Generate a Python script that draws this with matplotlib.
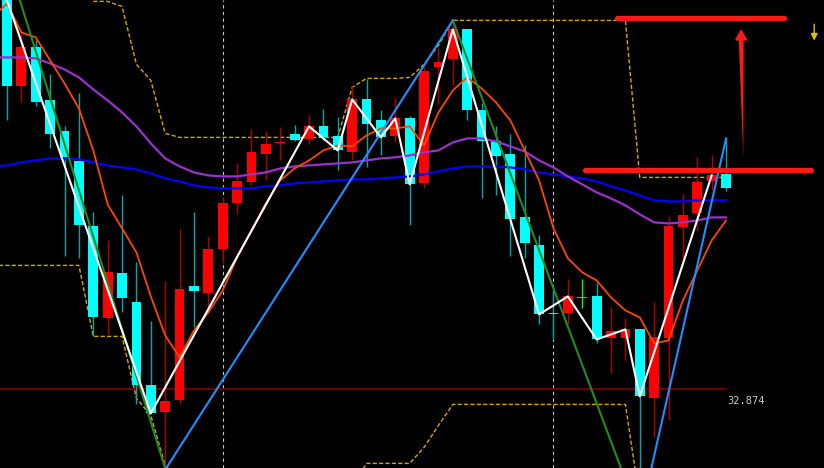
import numpy as np
import matplotlib
matplotlib.use("Agg")
import matplotlib.pyplot as plt

# ---- candles, one per bar (index 0..50) ----
opens = [36.80, 35.90, 36.29, 35.76, 35.45, 35.15, 34.50, 33.58, 34.03, 33.74,
         32.91, 32.64, 32.76, 33.90, 33.83, 34.27, 34.73, 34.94, 35.22, 35.33,
         35.42, 35.37, 35.50, 35.40, 35.24, 35.77, 35.56, 35.40, 35.58, 34.93,
         36.09, 36.17, 36.47, 35.66, 35.35, 35.22, 34.59, 34.31, 33.63, 33.63,
         33.79, 33.80, 33.38, 33.38, 33.47, 32.78, 33.38, 34.49, 34.63, 34.95,
         35.02]
highs = [36.86, 36.43, 36.36, 36.02, 35.50, 35.83, 34.64, 34.36, 34.81, 34.14,
         33.55, 33.95, 34.47, 34.64, 34.40, 34.78, 35.13, 35.47, 35.45, 35.49,
         35.51, 35.61, 35.67, 35.59, 35.90, 35.97, 35.66, 35.78, 35.60, 36.09,
         36.28, 36.57, 36.47, 35.73, 35.50, 35.42, 35.31, 34.41, 33.86, 33.97,
         33.97, 33.93, 33.69, 33.58, 33.47, 33.74, 34.60, 34.82, 35.19, 35.21,
         35.38]
lows = [35.56, 35.74, 35.70, 35.28, 34.20, 34.18, 33.40, 33.42, 33.64, 32.72,
        32.63, 32.00, 32.73, 33.49, 33.66, 34.13, 34.62, 34.91, 34.96, 35.16,
        35.35, 35.32, 35.36, 35.06, 35.16, 35.09, 35.21, 35.34, 34.51, 34.88,
        35.72, 35.91, 35.56, 34.78, 34.81, 34.20, 34.18, 33.52, 33.36, 33.52,
        33.68, 33.33, 33.03, 33.16, 32.00, 32.39, 32.56, 34.15, 34.45, 34.86,
        34.85]
closes = [35.90, 36.29, 35.74, 35.42, 35.19, 34.51, 33.59, 34.04, 33.78, 32.91,
          32.63, 32.75, 33.87, 33.85, 34.27, 34.73, 34.95, 35.24, 35.32, 35.34,
          35.36, 35.50, 35.39, 35.26, 35.77, 35.52, 35.39, 35.58, 34.92, 36.05,
          36.14, 36.47, 35.66, 35.35, 35.20, 34.57, 34.33, 33.62, 33.62, 33.80,
          33.79, 33.37, 33.45, 33.47, 32.80, 33.39, 34.50, 34.61, 34.94, 35.01,
          34.88]

# ---- moving averages (index -1..50) ----
ma_fast = [36.59, 36.73, 36.44, 36.39, 36.16, 35.93, 35.68, 35.26, 34.72, 34.48,
           34.24, 33.80, 33.41, 33.19, 33.46, 33.64, 33.86, 34.19, 34.46, 34.73,
           34.96, 35.08, 35.16, 35.26, 35.31, 35.30, 35.41, 35.48, 35.48, 35.50,
           35.31, 35.64, 35.86, 35.99, 35.88, 35.74, 35.56, 35.26, 34.96, 34.48,
           34.18, 34.04, 33.96, 33.79, 33.66, 33.59, 33.33, 33.36, 33.76, 34.06,
           34.36, 34.56]
ma_mid = [36.19, 36.19, 36.19, 36.18, 36.13, 36.07, 35.99, 35.87, 35.76, 35.64,
          35.50, 35.33, 35.18, 35.10, 35.04, 35.01, 35.00, 35.00, 35.02, 35.04,
          35.08, 35.10, 35.11, 35.12, 35.13, 35.14, 35.16, 35.18, 35.19, 35.21,
          35.24, 35.26, 35.34, 35.38, 35.38, 35.35, 35.30, 35.25, 35.16, 35.09,
          35.00, 34.92, 34.84, 34.78, 34.71, 34.62, 34.54, 34.53, 34.54, 34.56,
          34.59, 34.59]
ma_slow = [35.10, 35.11, 35.14, 35.16, 35.18, 35.18, 35.17, 35.14, 35.11, 35.09,
           35.07, 35.03, 34.98, 34.95, 34.91, 34.89, 34.88, 34.88, 34.88, 34.90,
           34.91, 34.93, 34.94, 34.95, 34.96, 34.97, 34.97, 34.98, 34.99, 35.00,
           35.02, 35.05, 35.08, 35.10, 35.10, 35.10, 35.09, 35.07, 35.04, 35.02,
           35.00, 34.98, 34.95, 34.90, 34.86, 34.81, 34.76, 34.75, 34.75, 34.76,
           34.76, 34.76]

# ---- channel (index -1..50), nan = off screen ----
nan = np.nan
chan_up = [nan, nan, nan, nan, nan, nan, nan, 36.75, 36.75, 36.70, 36.12,
           35.96, 35.43] + [35.39] * 12 + [35.89, 35.98, 35.98, 35.98, 35.99,
           36.12, 36.31] + [36.56] * 13 + [34.99] * 7
chan_dn = [34.11] * 7 + [33.40, 33.40, 33.40, 32.78, 32.61, 32.11] + [31.90] * 13 + \
          [32.13, 32.13, 32.13, 32.13, 32.29, 32.51] + [32.72] * 13 + [31.76] * 7

# ---- zigzag through turning closes ----
zz_idx = [0, 10, 21, 23, 24, 26, 27, 28, 31, 37, 39, 41, 43, 44, 49]
zz_val = [36.76, 32.63, 35.50, 35.26, 35.77, 35.39, 35.58, 34.92, 36.47, 33.62,
          33.80, 33.37, 33.47, 32.80, 35.01]

# ---- trend lines (x0, y0, x1, y1) ----
green_lines = [(0.9, 36.76, 11.0, 32.08), (31.0, 36.56, 42.7, 32.08)]
blue_lines = [(11.06, 32.08, 31.0, 36.56), (44.8, 32.08, 50.0, 35.38)]

# ---- annotations ----
level_lines = [(42.4, 54.0, 36.58), (40.2, 55.9, 35.06)]
last_price = 32.874
vgrid_idx = [15, 38]

n = len(opens)
x = np.arange(n)
xm = np.arange(-1, n)

fig = plt.figure(figsize=(8.24, 4.68), dpi=100, facecolor="black")
ax = fig.add_axes([0, 0, 1, 1])
ax.set_facecolor("black")
ax.set_axis_off()
ax.set_xlim(-0.487, 56.81)
ax.set_ylim(32.084, 36.764)

# dotted vertical separators
for v in vgrid_idx:
    ax.axvline(v, color="#c8c8c8", lw=0.8, dashes=(3, 3), zorder=1)

# last price line + label
ax.plot([-1, 50.0], [last_price, last_price], color="#800000", lw=1.2, zorder=1)
ax.text(50.1, last_price - 0.115, f"{last_price:.3f}", color="#c8c8c8",
        fontsize=7.5, family="DejaVu Sans Mono", va="center", ha="left")

# channel
ax.plot(xm, chan_up, color="#d4a800", lw=1.0, dashes=(3, 1.6), zorder=2)
ax.plot(xm, chan_dn, color="#d4a800", lw=1.0, dashes=(3, 1.6), zorder=2)

# candles
for i in range(n):
    o, h, l, c = opens[i], highs[i], lows[i], closes[i]
    if c > o:
        body, wick = "#ff0000", "#b00000"
    elif c < o:
        body, wick = "#00ffff", "#00a8a8"
    else:
        body, wick = "#00ff00", "#00ff00"
    ax.vlines(i, l, h, color=wick, lw=1.0, zorder=3)
    hgt = max(abs(c - o), 0.015)
    ax.bar(i, hgt, bottom=min(o, c) - (0.0075 if c == o else 0), width=0.68,
           color=body, zorder=4)

# moving averages
ax.plot(xm, ma_slow, color="#0000ff", lw=1.6, zorder=5)
ax.plot(xm, ma_mid, color="#9932cc", lw=1.6, zorder=5)
ax.plot(xm, ma_fast, color="#ff4500", lw=1.3, zorder=5)

# trend lines
for x0, y0, x1, y1 in green_lines:
    ax.plot([x0, x1], [y0, y1], color="#228b22", lw=1.5, zorder=6)
for x0, y0, x1, y1 in blue_lines:
    ax.plot([x0, x1], [y0, y1], color="#1e90ff", lw=1.5, zorder=6)

# zigzag
ax.plot(zz_idx, zz_val, color="white", lw=1.5, zorder=7)

# target levels
for x0, x1, yv in level_lines:
    ax.plot([x0, x1], [yv, yv], color="#ff1a1a", lw=3.8, solid_capstyle="round", zorder=8)

# red up arrow (tapered)
ax.annotate("", xy=(51.2, 35.16), xytext=(51.05, 36.40),
            arrowprops=dict(arrowstyle="wedge,tail_width=0.35", color="#ff1a1a", lw=0),
            zorder=8)
ax.annotate("", xy=(51.04, 36.50), xytext=(51.05, 36.38),
            arrowprops=dict(arrowstyle="-|>,head_length=0.6,head_width=0.35",
                            color="#ff1a1a", lw=1.5), zorder=8)

# small yellow down arrow
ax.annotate("", xy=(56.13, 36.33), xytext=(56.13, 36.55),
            arrowprops=dict(arrowstyle="-|>,head_length=0.4,head_width=0.2",
                            color="#e0c000", lw=1.0), zorder=8)

fig.savefig("out.png", dpi=100, facecolor="black")
